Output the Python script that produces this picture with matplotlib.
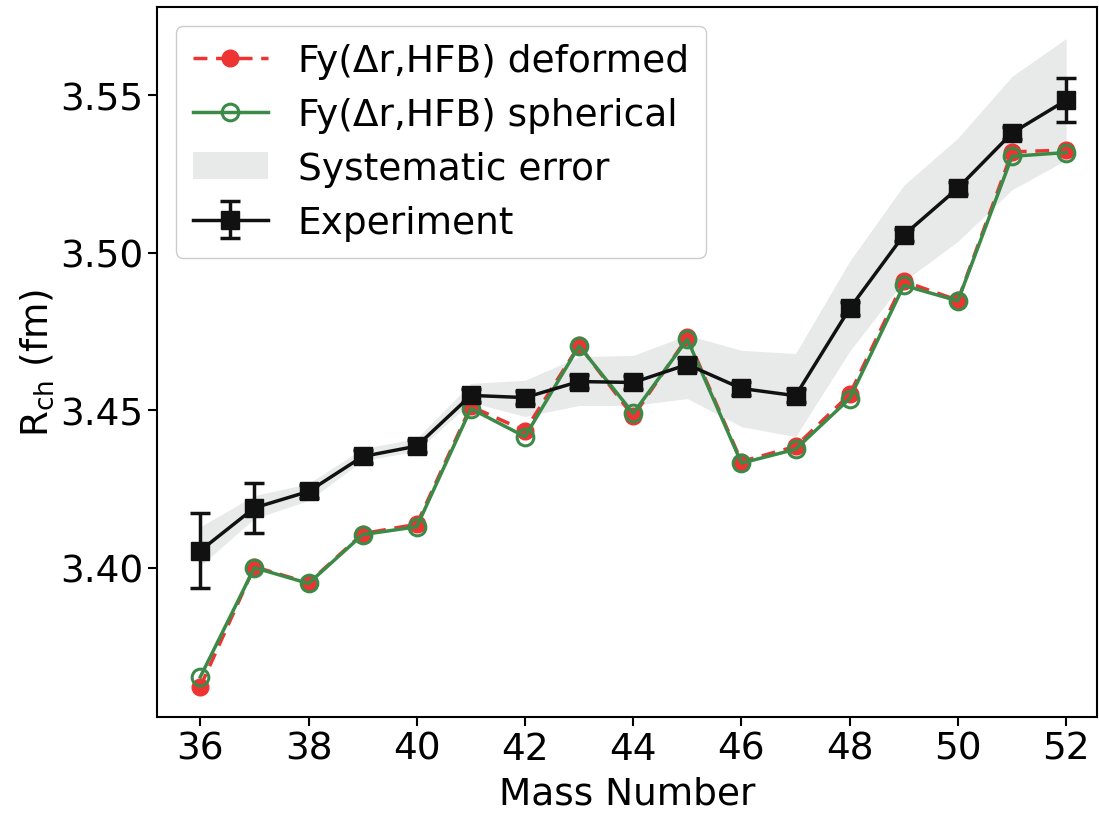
import numpy as np
import matplotlib
matplotlib.use("Agg")
import matplotlib.pyplot as plt

mass = [36, 37, 38, 39, 40, 41, 42, 43, 44, 45, 46, 47, 48, 49, 50, 51, 52]

exp_r = [3.4054, 3.419, 3.4242, 3.4353, 3.4386, 3.4547, 3.454, 3.4591, 3.4588,
         3.4645, 3.4569, 3.4546, 3.4823, 3.5056, 3.5205, 3.538, 3.5484]
exp_err = [0.012, 0.008, 0.002, 0.002, 0.002, 0.002, 0.002, 0.002, 0.002,
           0.002, 0.002, 0.002, 0.002, 0.002, 0.002, 0.002, 0.007]

deformed = [3.3622, 3.4003, 3.3952, 3.4108, 3.4138, 3.4512, 3.4435, 3.4706, 3.448,
            3.4731, 3.4337, 3.4385, 3.455, 3.4909, 3.4849, 3.532, 3.5326]
spherical = [3.3653, 3.4000, 3.3950, 3.4105, 3.4130, 3.4505, 3.4416, 3.4704, 3.449,
             3.4725, 3.4332, 3.4376, 3.4537, 3.4896, 3.4847, 3.5306, 3.5318]

sys_upper = [3.4130, 3.4229, 3.4267, 3.4378, 3.4410, 3.4585, 3.4595, 3.4670, 3.4674,
             3.4738, 3.4690, 3.4680, 3.4973, 3.5214, 3.5364, 3.5560, 3.5680]
sys_lower = [3.4006, 3.4156, 3.4213, 3.4340, 3.4370, 3.4525, 3.4480, 3.4515, 3.4515,
             3.4537, 3.4448, 3.4416, 3.4687, 3.4909, 3.5036, 3.5200, 3.5294]

plt.rcParams['font.family'] = ['DejaVu Sans']

fig = plt.figure(figsize=(10.99, 8.2), dpi=100)
ax = fig.add_axes([157 / 1099, 1 - 718 / 820, 940 / 1099, 710 / 820])

ax.fill_between(mass, sys_lower, sys_upper, color="#e8eaea", linewidth=0,
                label="Systematic error", zorder=1)
ax.plot(mass, deformed, linestyle="--", color="#ee3333", marker="o", markersize=12,
        linewidth=2.5, dashes=(4, 2.5), label="Fy(\u0394r,HFB) deformed", zorder=3)
ax.plot(mass, spherical, linestyle="-", color="#3b8a47", marker="o", markersize=12,
        markerfacecolor="none", markeredgewidth=2.2, linewidth=2.5,
        label="Fy(\u0394r,HFB) spherical", zorder=4)
ax.errorbar(mass, exp_r, yerr=exp_err, color="#111111", marker="s", markersize=13,
            linewidth=2.5, elinewidth=2.5, capsize=7, capthick=2.5,
            label="Experiment", zorder=5)

ax.set_xlim(35.2, 52.57)
ax.set_ylim(3.3526, 3.578)
ax.set_xticks(np.arange(36, 53, 2))
ax.set_yticks([3.40, 3.45, 3.50, 3.55])
ax.set_yticklabels(["3.40", "3.45", "3.50", "3.55"])
ax.tick_params(labelsize=27, length=6.5, width=1.5)
for sp in ax.spines.values():
    sp.set_linewidth(1.5)

ax.set_xlabel("Mass Number", fontsize=27, labelpad=6)
ax.set_ylabel("R$_{\\mathrm{ch}}$ (fm)", fontsize=27, labelpad=3)

handles, labels = ax.get_legend_handles_labels()
order = [labels.index(l) for l in ["Fy(\u0394r,HFB) deformed", "Fy(\u0394r,HFB) spherical",
                                   "Systematic error", "Experiment"]]
ax.legend([handles[i] for i in order], [labels[i] for i in order],
          loc="upper left", fontsize=27, handlelength=2.0, borderpad=0.45,
          labelspacing=0.48, framealpha=1)

fig.savefig("out.png", dpi=100)
